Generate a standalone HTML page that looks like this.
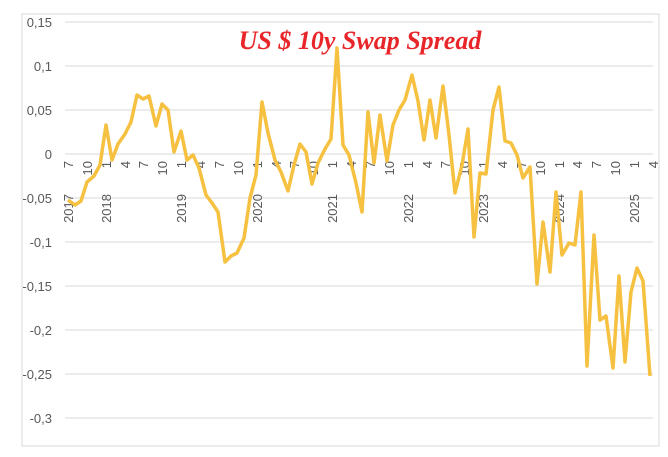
<!DOCTYPE html><html><head><style>body{margin:0;background:#fff}</style></head><body>
<svg width="668" height="452" xmlns="http://www.w3.org/2000/svg" font-family="Liberation Sans, sans-serif">
<rect x="22" y="14" width="637" height="432" fill="#fff" stroke="#d9d9d9"/>
<g stroke="#d9d9d9" stroke-width="1">
<line x1="65" x2="653" y1="22" y2="22"/><line x1="65" x2="653" y1="66" y2="66"/><line x1="65" x2="653" y1="110" y2="110"/><line x1="65" x2="653" y1="154" y2="154"/><line x1="65" x2="653" y1="198" y2="198"/><line x1="65" x2="653" y1="242" y2="242"/><line x1="65" x2="653" y1="286" y2="286"/><line x1="65" x2="653" y1="330" y2="330"/><line x1="65" x2="653" y1="374" y2="374"/><line x1="65" x2="653" y1="418" y2="418"/>
</g>
<g fill="#595959" font-size="13" text-anchor="end">
<text x="52" y="27">0,15</text><text x="52" y="71">0,1</text><text x="52" y="115">0,05</text><text x="52" y="159">0</text><text x="52" y="203">-0,05</text><text x="52" y="247">-0,1</text><text x="52" y="291">-0,15</text><text x="52" y="335">-0,2</text><text x="52" y="379">-0,25</text><text x="52" y="423">-0,3</text>
</g>
<g fill="#595959" font-size="13" text-anchor="end">
<text transform="translate(73,161) rotate(-90)">7</text><text transform="translate(92,161) rotate(-90)">10</text><text transform="translate(111,161) rotate(-90)">1</text><text transform="translate(130,161) rotate(-90)">4</text><text transform="translate(148,161) rotate(-90)">7</text><text transform="translate(167,161) rotate(-90)">10</text><text transform="translate(186,161) rotate(-90)">1</text><text transform="translate(205,161) rotate(-90)">4</text><text transform="translate(224,161) rotate(-90)">7</text><text transform="translate(243,161) rotate(-90)">10</text><text transform="translate(262,161) rotate(-90)">1</text><text transform="translate(281,161) rotate(-90)">4</text><text transform="translate(299,161) rotate(-90)">7</text><text transform="translate(318,161) rotate(-90)">10</text><text transform="translate(337,161) rotate(-90)">1</text><text transform="translate(356,161) rotate(-90)">4</text><text transform="translate(375,161) rotate(-90)">7</text><text transform="translate(394,161) rotate(-90)">10</text><text transform="translate(413,161) rotate(-90)">1</text><text transform="translate(432,161) rotate(-90)">4</text><text transform="translate(450,161) rotate(-90)">7</text><text transform="translate(469,161) rotate(-90)">10</text><text transform="translate(488,161) rotate(-90)">1</text><text transform="translate(507,161) rotate(-90)">4</text><text transform="translate(526,161) rotate(-90)">7</text><text transform="translate(545,161) rotate(-90)">10</text><text transform="translate(564,161) rotate(-90)">1</text><text transform="translate(582,161) rotate(-90)">4</text><text transform="translate(601,161) rotate(-90)">7</text><text transform="translate(620,161) rotate(-90)">10</text><text transform="translate(639,161) rotate(-90)">1</text><text transform="translate(658,161) rotate(-90)">4</text>
<text transform="translate(73,194) rotate(-90)">2017</text><text transform="translate(111,194) rotate(-90)">2018</text><text transform="translate(186,194) rotate(-90)">2019</text><text transform="translate(262,194) rotate(-90)">2020</text><text transform="translate(337,194) rotate(-90)">2021</text><text transform="translate(413,194) rotate(-90)">2022</text><text transform="translate(488,194) rotate(-90)">2023</text><text transform="translate(564,194) rotate(-90)">2024</text><text transform="translate(639,194) rotate(-90)">2025</text>
</g>
<polyline fill="none" stroke="#f6c140" stroke-width="3.5" stroke-linejoin="round" points="68,200 75,205 81,201 87,182 94,176 100,165 106,125 112,160 118,144 125,134 131,122 137,95 143,99 149,96 156,126 162,104 168,110 174,152 181,131 187,160 193,155 199,168 206,195 212,203 218,212 225,262 231,256 237,253 244,238 250,198 256,175 262,102 268,133 275,160 281,172 288,191 294,165 300,144 306,152 312,184 318,163 325,149 331,139 337,48 343,145 349,155 356,183 362,212 368,112 374,163 380,115 387,161 393,125 399,110 405,100 412,75 418,101 424,140 430,100 436,138 443,86 449,135 455,193 462,165 468,129 474,237 480,173 486,174 493,110 499,87 505,141 511,143 517,155 523,178 530,167 537,284 543,222 550,272 556,192 562,255 569,243 575,245 581,192 587,366 594,235 600,320 606,316 613,368 619,276 625,362 631,292 637,268 643,281 650,376"/>
<text x="360" y="49" text-anchor="middle" font-family="Liberation Serif, serif" font-weight="bold" font-style="italic" font-size="26" fill="#e8262a">US $ 10y Swap Spread</text>
</svg>
</body></html>
